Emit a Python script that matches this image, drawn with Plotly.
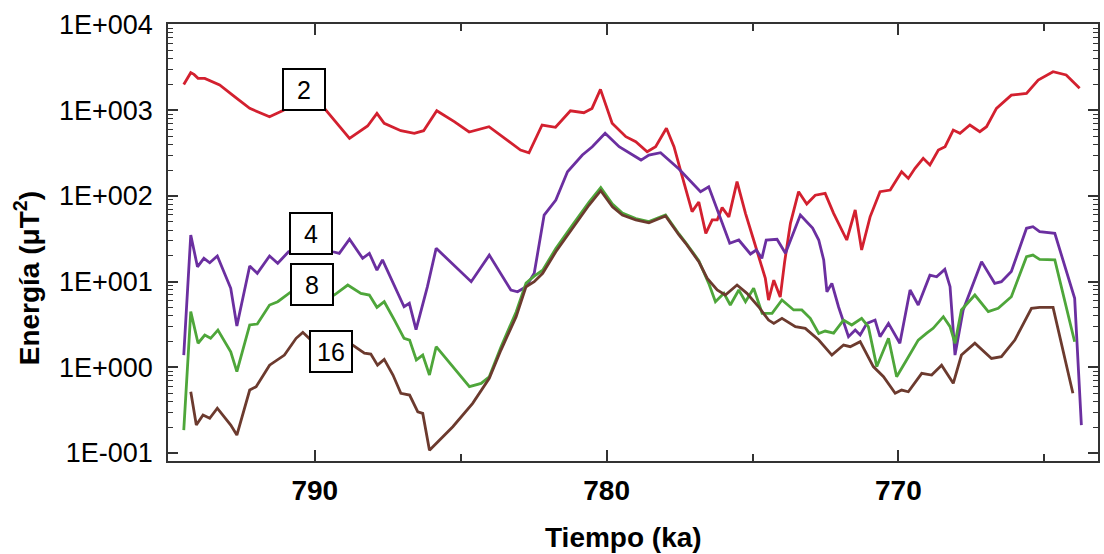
import plotly.graph_objects as go

# Spectral energy per degree band across the reversal (time in ka, energy in uT^2)
red_ka = [794.49, 794.25, 794.14, 794.00, 793.77, 793.26, 792.75, 792.23, 791.55, 791.09,
          790.38, 789.67, 788.81, 788.19, 787.87, 787.62, 787.05, 786.59, 786.27, 785.82,
          785.22, 784.71, 784.03, 783.51, 782.95, 782.66, 782.21, 781.75, 781.24, 780.78,
          780.50, 780.21, 779.81, 779.34, 779.00, 778.61, 778.32, 777.95, 777.69, 777.45,
          777.25, 777.07, 776.84, 776.60, 776.38, 776.21, 776.04, 775.81, 775.53, 775.24,
          774.96, 774.79, 774.56, 774.45, 774.27, 774.05, 773.90, 773.70, 773.42, 773.14,
          772.85, 772.51, 772.22, 771.77, 771.48, 771.26, 770.97, 770.63, 770.28, 769.89,
          769.66, 769.43, 769.15, 768.92, 768.63, 768.40, 768.12, 767.89, 767.55, 767.21,
          766.98, 766.64, 766.13, 765.61, 765.21, 764.70, 764.25, 763.79]
red_E = [2000, 2740, 2620, 2360, 2350, 1970, 1440, 1050, 840, 990,
         1390, 1050, 470, 655, 920, 703, 577, 538, 577, 986,
         735, 557, 642, 470, 343, 319, 672, 632, 986, 935,
         1050, 1750, 703, 491, 430, 328, 375, 615, 375, 190,
         111, 65.5, 85, 36.6, 52.4, 52.4, 73, 57, 147, 62.7,
         30.6, 19.5, 10.9, 6.1, 10.4, 6.6, 16.9, 47.9, 112, 80.5,
         102, 107, 62.7, 30.6, 68.5, 23.4, 57, 112, 117, 191,
         160, 210, 275, 230, 343, 375, 587, 538, 672, 561,
         642, 1050, 1500, 1575, 2250, 2810, 2575, 1800]

pur_ka = [794.49, 794.25, 794.02, 793.80, 793.60, 793.34, 792.88, 792.67, 792.23, 791.97,
          791.55, 791.27, 790.90, 790.17, 789.38, 789.16, 788.81, 788.36, 788.13, 787.87,
          787.68, 786.94, 786.76, 786.53, 786.14, 785.84, 784.64, 784.02, 783.28, 783.05,
          782.76, 782.48, 782.14, 781.74, 781.34, 780.83, 780.49, 780.05, 779.57, 779.12,
          778.82, 778.55, 778.15, 777.52, 776.78, 776.50, 775.78, 775.47, 775.07, 774.87,
          774.68, 774.53, 774.16, 773.87, 773.36, 772.94, 772.73, 772.56, 772.45, 772.28,
          772.05, 771.71, 771.48, 771.31, 771.08, 770.80, 770.63, 770.34, 769.95, 769.60,
          769.32, 768.92, 768.69, 768.41, 768.23, 768.06, 767.78, 767.15, 766.70, 766.47,
          766.13, 765.61, 765.39, 765.16, 764.64, 763.96, 763.73]
pur_E = [1.39, 35.0, 14.9, 18.7, 16.6, 19.9, 8.36, 3.03, 15.2, 12.5,
         19.9, 16.4, 22.3, 26.7, 22.3, 21.4, 31.2, 18.7, 21.4, 13.6,
         17.9, 5.09, 5.58, 2.76, 8.73, 24.5, 9.98, 20.4, 7.98, 7.62,
         8.73, 12.5, 59.8, 89.5, 191, 300, 375, 538, 375, 300,
         262, 300, 319, 206, 112, 128, 28.0, 30.6, 21.0, 23.4,
         18.7, 30.6, 31.2, 21.4, 59.8, 42.2, 30.6, 17.9, 7.62, 9.55,
         5.06, 2.28, 2.72, 2.38, 3.26, 3.56, 2.28, 3.26, 1.91, 7.98,
         5.33, 11.9, 11.4, 13.9, 8.73, 1.39, 4.67, 17.1, 9.55, 9.98,
         13.1, 41.9, 43.7, 38.2, 36.6, 6.38, 0.212]

grn_ka = [794.49, 794.25, 794.00, 793.77, 793.57, 793.32, 792.88, 792.67, 792.23, 791.97,
          791.55, 791.27, 790.81, 790.10, 789.33, 788.87, 788.42, 788.13, 787.87, 787.62,
          787.27, 786.94, 786.75, 786.52, 786.30, 786.07, 785.84, 784.70, 784.30, 784.02,
          783.62, 783.10, 782.76, 782.48, 782.19, 781.74, 781.17, 780.60, 780.20, 779.80,
          779.46, 779.00, 778.55, 777.98, 777.52, 777.29, 776.84, 776.50, 776.27, 775.98,
          775.76, 775.47, 775.24, 774.96, 774.67, 774.33, 773.99, 773.59, 773.31, 773.02,
          772.73, 772.51, 772.22, 771.88, 771.60, 771.26, 771.03, 770.74, 770.34, 770.06,
          769.72, 769.32, 769.03, 768.81, 768.46, 768.23, 768.06, 767.84, 767.38, 766.92,
          766.58, 766.13, 765.61, 765.39, 765.16, 764.64, 763.96]
grn_E = [0.185, 4.46, 1.91, 2.38, 2.18, 2.72, 1.52, 0.889, 3.12, 3.20,
         5.33, 5.83, 7.62, 8.65, 6.98, 9.12, 7.30, 6.98, 5.01, 5.83,
         3.56, 2.18, 2.08, 1.22, 1.39, 0.813, 1.74, 0.594, 0.650, 0.776,
         1.73, 4.42, 9.64, 11.6, 13.6, 24.3, 45.8, 84.9, 125, 80.5,
         63.2, 54.5, 50.2, 59.8, 36.0, 28.6, 17.6, 9.55, 5.83, 7.30,
         5.33, 7.98, 5.83, 8.36, 4.27, 4.27, 6.10, 4.67, 4.67, 3.73,
         2.48, 2.65, 2.51, 3.56, 3.12, 3.73, 2.98, 1.02, 2.18, 0.776,
         1.22, 2.08, 2.50, 2.85, 3.90, 2.98, 1.91, 4.67, 6.98, 4.46,
         4.88, 6.67, 19.5, 20.4, 18.2, 17.9, 1.99]

brn_ka = [794.25, 794.06, 793.83, 793.60, 793.34, 792.88, 792.67, 792.23, 792.01, 791.55,
          791.04, 790.64, 790.41, 790.13, 789.42, 788.70, 788.30, 788.08, 787.85, 787.62,
          787.32, 787.05, 786.75, 786.47, 786.30, 786.07, 785.27, 784.59, 784.02, 783.62,
          783.10, 782.76, 782.48, 782.19, 781.74, 781.17, 780.60, 780.20, 779.80, 779.46,
          779.00, 778.55, 777.98, 777.52, 777.29, 776.84, 776.55, 776.21, 775.93, 775.53,
          775.19, 774.79, 774.45, 774.27, 773.99, 773.53, 773.19, 772.73, 772.28, 771.88,
          771.65, 771.31, 770.86, 770.51, 770.11, 769.89, 769.66, 769.20, 768.86, 768.52,
          768.12, 767.84, 767.38, 766.81, 766.47, 766.01, 765.44, 765.16, 764.70, 764.02]
brn_E = [0.519, 0.212, 0.278, 0.254, 0.333, 0.212, 0.162, 0.543, 0.594, 1.06,
         1.39, 2.18, 2.56, 2.08, 1.92, 1.82, 1.46, 1.43, 1.06, 1.24,
         0.813, 0.498, 0.475, 0.303, 0.290, 0.108, 0.203, 0.380, 0.745, 1.59,
         3.90, 8.73, 9.98, 12.5, 22.3, 41.9, 78.3, 115, 74.8, 59.8,
         52.4, 48.6, 58.3, 35.0, 28.0, 17.1, 10.9, 7.98, 6.98, 9.12,
         7.30, 5.09, 3.56, 3.26, 3.73, 2.98, 2.85, 2.08, 1.39, 1.82,
         1.74, 1.99, 1.02, 0.776, 0.498, 0.543, 0.519, 0.851, 0.813, 1.06,
         0.650, 1.39, 1.91, 1.27, 1.33, 2.08, 4.88, 5.01, 5.01, 0.498]

# Band labels and where their boxes sit (ka, log10 energy)
band_labels = ["2", "4", "8", "16"]
label_ka = [790.38, 790.14, 790.09, 789.43]
label_logE = [3.247, 1.567, 0.966, 0.190]

x_ticks = [790, 780, 770]
y_ticks = [0.1, 1, 10, 100, 1000, 10000]
y_ticktext = ["1E-001", "1E+000", "1E+001", "1E+002", "1E+003", "1E+004"]

series = [
    (red_ka, red_E, "#D3202F"),
    (pur_ka, pur_E, "#6B2FA0"),
    (grn_ka, grn_E, "#4EA63A"),
    (brn_ka, brn_E, "#6C3A2E"),
]

fig = go.Figure()
for (xs, ys, col), name in zip(series, band_labels):
    fig.add_trace(go.Scatter(x=xs, y=ys, mode="lines", name=name,
                             line=dict(color=col, width=2.8), showlegend=False))

for lab, xa, ya in zip(band_labels, label_ka, label_logE):
    fig.add_annotation(x=xa, y=ya, xref="x", yref="y", text=lab, showarrow=False,
                       font=dict(family="Arial, Liberation Sans", size=25, color="black"),
                       bgcolor="white", bordercolor="black", borderwidth=2,
                       borderpad=2, width=36, height=35, align="center", valign="middle")

axis_col = "#333333"
fig.add_annotation(text="<b>Tiempo (ka)</b>", xref="paper", yref="paper",
                   x=0.4903, y=-0.174, xanchor="center", yanchor="middle", showarrow=False,
                   font=dict(family="Arial, Liberation Sans", size=28, color="black"))
fig.add_annotation(text="<b>Energía (μT<sup>2</sup>)</b>", xref="paper", yref="paper",
                   x=-0.1513, y=0.4188, xanchor="center", yanchor="middle", textangle=-90,
                   showarrow=False,
                   font=dict(family="Arial, Liberation Sans", size=28, color="black"))

minor_y = [m * 10.0 ** d for d in range(-1, 4) for m in range(2, 10)]

fig.update_xaxes(range=[795.03, 763.16], showgrid=False, zeroline=False,
                 showline=True, linecolor=axis_col, linewidth=1.5, mirror="ticks",
                 ticks="inside", ticklen=11, tickwidth=1.5, tickcolor=axis_col,
                 tickvals=x_ticks, ticktext=[str(v) for v in x_ticks],
                 tickfont=dict(family="Arial, Liberation Sans", size=28, color="black",
                               weight="bold"),
                 ticklabelstandoff=4,
                 minor=dict(tickvals=[785, 775, 765], ticks="inside", ticklen=7,
                            tickwidth=1.5, tickcolor=axis_col))
fig.update_yaxes(type="log", range=[-1.093, 4.006], showgrid=False, zeroline=False,
                 showline=True, linecolor=axis_col, linewidth=1.5, mirror="ticks",
                 ticks="inside", ticklen=10, tickwidth=1.5, tickcolor=axis_col,
                 tickvals=y_ticks, ticktext=y_ticktext,
                 tickfont=dict(family="Arial, Liberation Sans", size=27, color="black"),
                 ticklabelstandoff=8,
                 minor=dict(tickvals=minor_y, ticks="inside", ticklen=5,
                            tickwidth=1.2, tickcolor=axis_col))

fig.update_layout(width=1104, height=554, margin=dict(l=168, r=4, t=24, b=93),
                  paper_bgcolor="white", plot_bgcolor="white")

fig.write_html("out.html")
